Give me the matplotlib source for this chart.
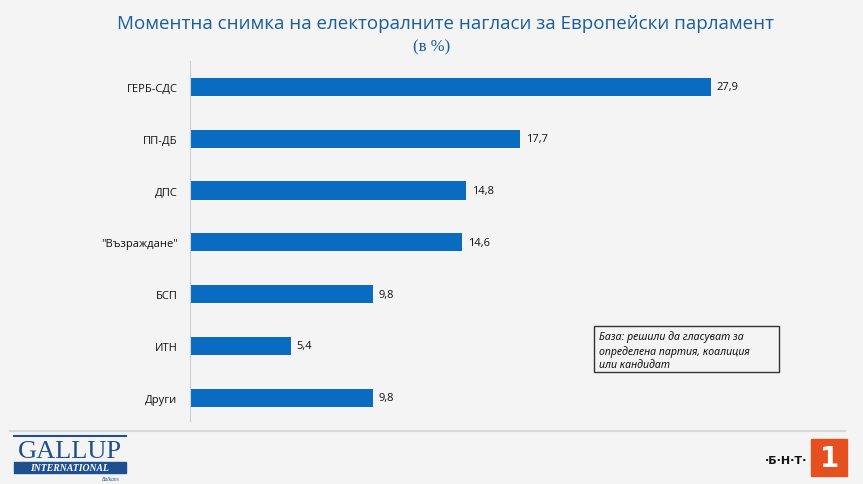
import matplotlib.pyplot as plt
from matplotlib.patches import Rectangle

parties = ['ГЕРБ-СДС', 'ПП-ДБ', 'ДПС', '"Възраждане"', 'БСП', 'ИТН', 'Други']
shares = [27.9, 17.7, 14.8, 14.6, 9.8, 5.4, 9.8]
value_labels = ['27,9', '17,7', '14,8', '14,6', '9,8', '5,4', '9,8']

bg = '#f4f4f4'
bar_color = '#0a6cc0'

fig = plt.figure(figsize=(8.63, 4.85), dpi=100, facecolor=bg)
ax = fig.add_axes([190 / 863, 1 - 422 / 485, 640 / 863, 360 / 485], facecolor=bg)

ypos = list(range(len(parties)))
ax.barh(ypos, shares, height=0.35, color=bar_color)
for y, v, lab in zip(ypos, shares, value_labels):
    ax.text(v + 0.3, y, lab, va='center', ha='left', fontsize=8,
            family='Open Sans', color='#111111')

ax.set_xlim(0, 34.3)
ax.set_ylim(6.45, -0.5)
ax.set_yticks(ypos)
ax.set_yticklabels(parties, fontsize=8, family='Open Sans', color='#111111')
ax.tick_params(axis='y', length=0, pad=9)
ax.set_xticks([])
for s in ['top', 'right', 'bottom']:
    ax.spines[s].set_visible(False)
ax.spines['left'].set_color('#d0d0d0')

fig.text(0.516, 1 - 24 / 485, 'Моментна снимка на електоралните нагласи за Европейски парламент',
         ha='center', va='center', fontsize=13.5, family='Open Sans', color='#1a5d9c')
fig.text(0.5, 1 - 47 / 485, '(в %)', ha='center', va='center', fontsize=12,
         family='Liberation Serif', color='#1a5d9c')

# note box
fig.text(599 / 863, 1 - 351 / 485,
         'База: решили да гласуват за\nопределена партия, коалиция\nили кандидат',
         ha='left', va='center', fontsize=7.6, style='italic', family='Noto Sans',
         color='#111111', linespacing=1.35)
fig.patches.append(Rectangle((594 / 863, 1 - 373 / 485), 185 / 863, 46 / 485,
                             transform=fig.transFigure, fill=False,
                             edgecolor='#333333', lw=1))

# separator line
fig.add_artist(plt.Line2D([10 / 863, 845 / 863], [1 - 432 / 485, 1 - 432 / 485],
                          transform=fig.transFigure, color='#d8d8d8', lw=1.5))

# Gallup logo
fig.add_artist(plt.Line2D([14 / 863, 126 / 863], [1 - 437 / 485, 1 - 437 / 485],
                          transform=fig.transFigure, color='#1f4f8f', lw=1.5))
fig.text(70 / 863, 1 - 452 / 485, 'GALLUP', ha='center', va='center', fontsize=19,
         family='Liberation Serif', color='#1f4f8f')
fig.patches.append(Rectangle((14 / 863, 1 - 474 / 485), 112 / 863, 11 / 485,
                             transform=fig.transFigure, color='#1f4f8f'))
fig.text(70 / 863, 1 - 468.5 / 485, 'INTERNATIONAL', ha='center', va='center',
         fontsize=7, style='italic', weight='bold', family='Liberation Serif',
         color='white')
fig.text(120 / 863, 1 - 480 / 485, 'Balkans', ha='right', va='center', fontsize=4,
         style='italic', family='Liberation Serif', color='#1f4f8f')

# BNT logo
fig.text(786 / 863, 1 - 461 / 485, '·Б·Н·Т·', ha='center', va='center', fontsize=8,
         weight='bold', family='DejaVu Sans', color='#111111')
fig.patches.append(Rectangle((811 / 863, 1 - 477 / 485), 36 / 863, 37 / 485,
                             transform=fig.transFigure, color='#e5501e'))
fig.text(829 / 863, 1 - 459 / 485, '1', ha='center', va='center', fontsize=20,
         weight='bold', family='DejaVu Sans', color='white')

fig.savefig('out.png', dpi=100, facecolor=bg)
